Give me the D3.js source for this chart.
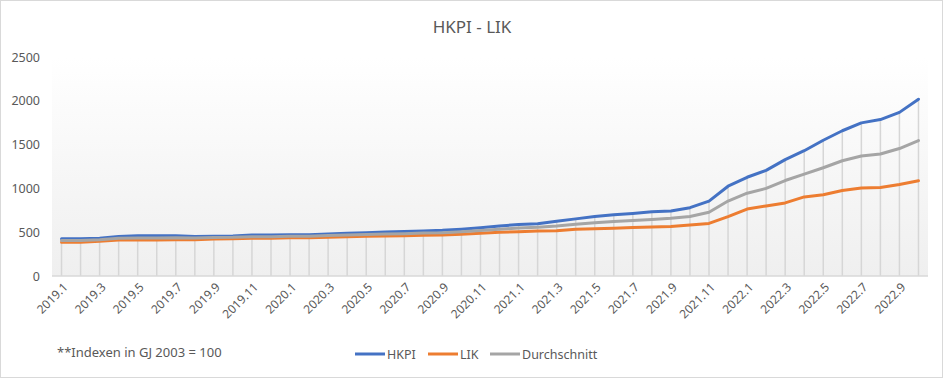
<!DOCTYPE html>
<html>
<head>
<meta charset="utf-8">
<script src="https://cdn.jsdelivr.net/npm/d3@7"></script>
<style>
  body { margin: 0; background: #fff; }
  text { font-family: "Noto Sans", "Open Sans", sans-serif; fill: #595959; }
</style>
</head>
<body>
<script>
// Monthly categories 2019.1 .. 2022.10
var months = [];
[2019, 2020, 2021, 2022].forEach(function (y) {
    var last = y === 2022 ? 10 : 12;
    for (var m = 1; m <= last; m++) months.push(y + "." + m);
});

// Values
var hkpi = [
    425, 425, 430, 452, 460, 460, 460, 450, 455, 456, 468, 468,
    472, 472, 480, 487, 495, 503, 507, 515, 522, 535, 552, 571,
    588, 597, 625, 652, 678, 698, 714, 734, 742, 780, 855, 1025,
    1127, 1206, 1328, 1430, 1550, 1658, 1748, 1786, 1868, 2018
];
var lik = [
    385, 385, 397, 411, 411, 411, 415, 415, 423, 426, 430, 430,
    438, 438, 442, 449, 453, 457, 460, 464, 468, 476, 487, 499,
    506, 514, 517, 533, 540, 545, 554, 558, 565, 583, 600, 678,
    764, 800, 834, 903, 927, 977, 1004, 1010, 1044, 1087
];
var durchschnitt = [
    405, 405, 413, 431, 435, 435, 437, 433, 439, 441, 449, 449,
    455, 455, 461, 468, 474, 480, 483, 490, 495, 505, 520, 535,
    547, 556, 571, 592, 609, 622, 633, 646, 658, 680, 728, 856,
    945, 1000, 1090, 1163, 1236, 1316, 1370, 1392, 1455, 1545
];
var yTicks = [0, 500, 1000, 1500, 2000, 2500];

var series = [
    { name: "HKPI", values: hkpi, color: "#4472C4" },
    { name: "LIK", values: lik, color: "#ED7D31" },
    { name: "Durchschnitt", values: durchschnitt, color: "#A5A5A5" }
];

var width = 945, height = 379;

var svg = d3.select("body")
    .append("svg")
    .attr("width", width)
    .attr("height", height);

// outer frame
svg.append("rect")
    .attr("x", 0.5).attr("y", 0.5)
    .attr("width", 942).attr("height", 377)
    .attr("fill", "#fff")
    .attr("stroke", "#d9d9d9");

var x = d3.scalePoint()
    .domain(months)
    .range([52, 928])
    .padding(0.5);

var y = d3.scaleLinear()
    .domain([0, 2500])
    .range([276, 57]);

// plot area gradient
var grad = svg.append("defs").append("linearGradient")
    .attr("id", "bg").attr("x1", 0).attr("y1", 0).attr("x2", 0).attr("y2", 1);
grad.append("stop").attr("offset", "0%").attr("stop-color", "#ffffff");
grad.append("stop").attr("offset", "100%").attr("stop-color", "#efefef");

svg.append("rect")
    .attr("x", 52).attr("y", y(2500))
    .attr("width", 876).attr("height", y(0) - y(2500))
    .attr("fill", "url(#bg)");

// title
svg.append("text")
    .attr("x", 472).attr("y", 33)
    .attr("text-anchor", "middle")
    .style("font-size", "17px")
    .text("HKPI - LIK");

// y axis labels
svg.selectAll(".ylab")
    .data(yTicks)
    .enter()
    .append("text")
    .attr("class", "ylab")
    .attr("x", 40)
    .attr("y", function (d) { return y(d) + 4.5; })
    .attr("text-anchor", "end")
    .style("font-size", "12.5px")
    .text(function (d) { return d; });

// drop lines from the highest series down to the axis
svg.selectAll(".drop")
    .data(months)
    .enter()
    .append("line")
    .attr("class", "drop")
    .attr("x1", function (d) { return x(d); })
    .attr("x2", function (d) { return x(d); })
    .attr("y1", y(0))
    .attr("y2", function (d, i) {
        return y(d3.max(series, function (s) { return s.values[i]; }));
    })
    .attr("stroke", "#d6d6d6")
    .attr("stroke-width", 1.5);

// category axis line
svg.append("line")
    .attr("x1", 52).attr("x2", 928)
    .attr("y1", y(0)).attr("y2", y(0))
    .attr("stroke", "#d9d9d9")
    .attr("stroke-width", 1.5);

// lines
var line = d3.line()
    .x(function (d, i) { return x(months[i]); })
    .y(function (d) { return y(d); });

svg.selectAll(".series")
    .data(series)
    .enter()
    .append("path")
    .attr("class", "series")
    .attr("d", function (s) { return line(s.values); })
    .attr("fill", "none")
    .attr("stroke", function (s) { return s.color; })
    .attr("stroke-width", 3)
    .attr("stroke-linejoin", "round")
    .attr("stroke-linecap", "round");

// x labels, every second month, rotated
svg.selectAll(".xlab")
    .data(months.filter(function (d, i) { return i % 2 === 0; }))
    .enter()
    .append("text")
    .attr("class", "xlab")
    .attr("transform", function (d) {
        return "translate(" + (x(d) + 4) + "," + 285 + ") rotate(-45)";
    })
    .attr("text-anchor", "end")
    .attr("dy", "0.35em")
    .style("font-size", "12px")
    .text(function (d) { return d; });

// footnote
svg.append("text")
    .attr("x", 57).attr("y", 357)
    .style("font-size", "13px")
    .text("**Indexen in GJ 2003 = 100");

// legend
var legendX = [355, 428, 490];
var legend = svg.selectAll(".legend")
    .data(series)
    .enter()
    .append("g")
    .attr("class", "legend")
    .attr("transform", function (d, i) { return "translate(" + legendX[i] + ",354)"; });

legend.append("line")
    .attr("x1", 0).attr("x2", 30)
    .attr("stroke", function (d) { return d.color; })
    .attr("stroke-width", 3);

legend.append("text")
    .attr("x", 32)
    .attr("y", 4.5)
    .style("font-size", "12.5px")
    .text(function (d) { return d.name; });
</script>
</body>
</html>
